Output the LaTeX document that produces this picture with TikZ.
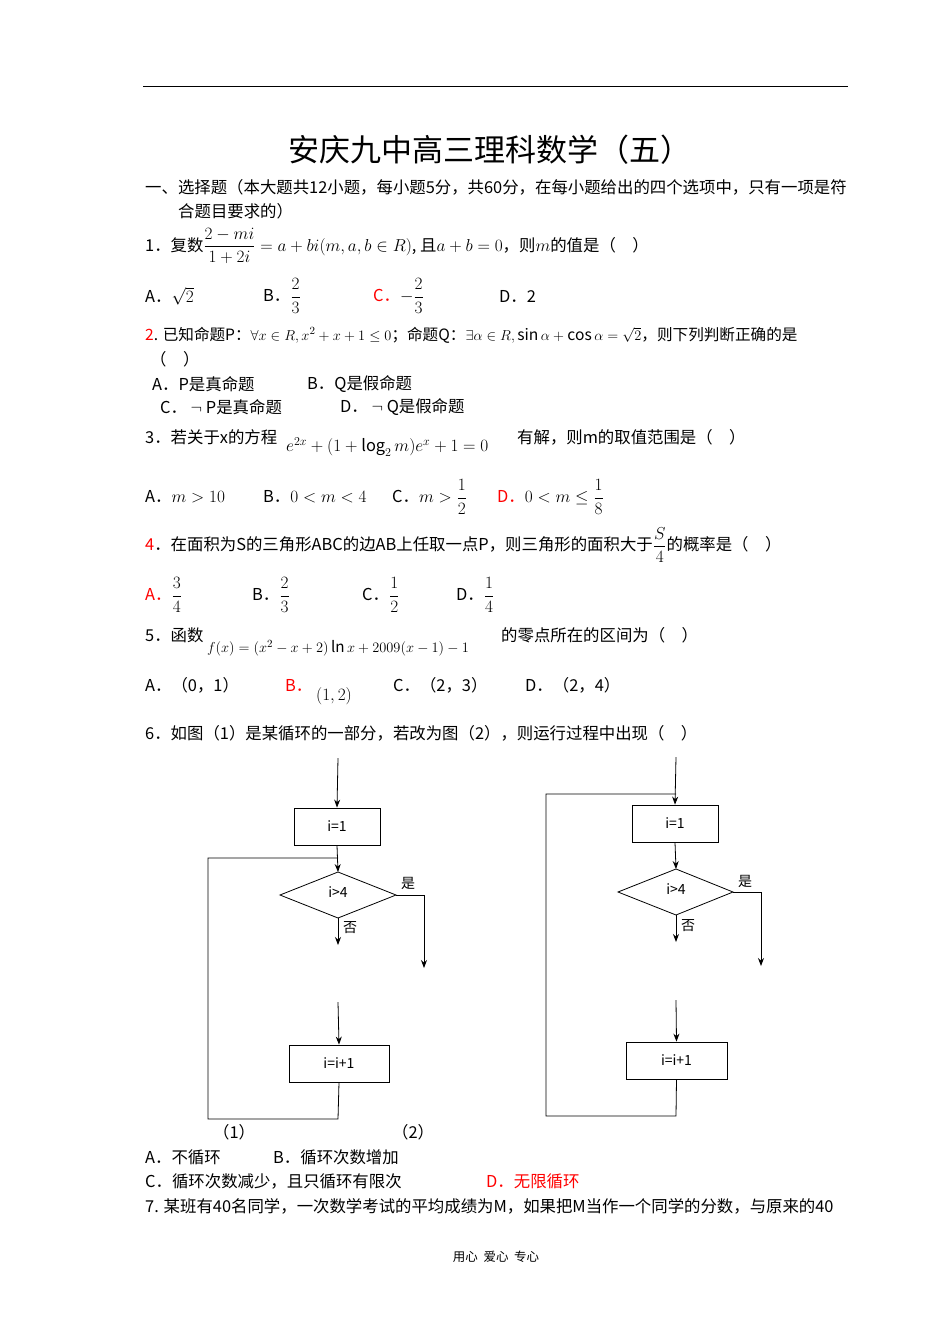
\documentclass[tikz,border=0pt]{standalone}
\usepackage{amsmath,amssymb}
\usepackage{fontspec}
\setmainfont{Noto Sans CJK SC}
\usetikzlibrary{arrows.meta}
\begin{document}
\begin{tikzpicture}[x=1pt,y=-1pt,
  t/.style={anchor=west,inner sep=0pt,font=\fontsize{16.4}{19}\selectfont},
  r/.style={t,text=red},
  fbox/.style={draw,thick,minimum width=86pt,minimum height=37pt,anchor=center,font=\fontsize{14}{16}\selectfont},
  dia/.style={draw,thick},
  ar/.style={thick,-{Stealth[length=8pt,width=6pt]}},
  ln/.style={thick}]
\useasboundingbox (0,0) rectangle (950,1344);
\fill[white] (0,0) rectangle (950,1344);
\coordinate (rl) at (143,86); \coordinate (rr) at (848,86);
\draw[thick] (rl)--(rr);
\node[inner sep=0pt,font=\fontsize{31}{35}\selectfont] (title) at (490,150) {安庆九中高三理科数学（五）};
\node[t] (h1) at (145,187) {一、选择题（本大题共12小题，每小题5分，共60分，在每小题给出的四个选项中，只有一项是符};
\node[t] (h2) at (178,211) {合题目要求的）};
\node[t] (q1) at (145,246) {1．复数$\dfrac{2-mi}{1+2i}=a+bi(m,a,b\in R)$, 且$a+b=0$，则$m$的值是（\quad）};
\node[t] (q1a) at (145,296) {A．$\sqrt2$};
\node[t] (q1b) at (263,296) {B．$\dfrac23$};
\node[r] (q1c) at (373,296) {C．\textcolor{black}{$-\dfrac23$}};
\node[t] (q1d) at (499,296) {D．2};
\node[t,font=\fontsize{15.6}{19}\selectfont] (q2) at (145,335) {\textcolor{red}{2}. 已知命题P：$\forall x\in R,x^2+x+1\le0$；命题Q：$\exists\alpha\in R,\sin\alpha+\cos\alpha=\sqrt2$，则下列判断正确的是};
\node[t] (q2p) at (150,359) {（\quad）};
\node[t] (q2a) at (152,384) {A．P是真命题};
\node[t] (q2b) at (307,384) {B．Q是假命题};
\node[t] (q2c) at (160,407) {C．\ $\neg$ P是真命题};
\node[t] (q2d) at (340,407) {D．\ $\neg$ Q是假命题};
\node[t] (q3) at (145,437) {3．若关于x的方程};
\node[t] (q3m) at (286,447) {$e^{2x}+(1+\log_2 m)e^x+1=0$};
\node[t] (q3e) at (517,437) {有解，则m的取值范围是（\quad）};
\node[t] (q3a) at (145,497) {A．$m>10$};
\node[t] (q3b) at (263,497) {B．$0<m<4$};
\node[t] (q3c) at (392,497) {C．$m>\dfrac12$};
\node[r] (q3d) at (497,497) {D．\textcolor{black}{$0<m\le\dfrac18$}};
\node[t] (q4) at (145,545) {\textcolor{red}{4}．在面积为S的三角形ABC的边AB上任取一点P，则三角形的面积大于$\dfrac S4$的概率是（\quad）};
\node[r] (q4a) at (145,595) {A．\textcolor{black}{$\dfrac34$}};
\node[t] (q4b) at (252,595) {B．$\dfrac23$};
\node[t] (q4c) at (362,595) {C．$\dfrac12$};
\node[t] (q4d) at (456,595) {D．$\dfrac14$};
\node[t] (q5) at (145,635) {5．函数};
\node[t,font=\fontsize{15.2}{18}\selectfont] (q5m) at (207,648) {$f(x)=(x^2-x+2)\ln x+2009(x-1)-1$};
\node[t] (q5e) at (501,635) {的零点所在的区间为（\quad）};
\node[t] (q5a) at (145,685) {A．（0，1）};
\node[r] (q5b) at (285,685) {B．};
\node[t] (q5bm) at (316,696) {$(1,2)$};
\node[t] (q5c) at (393,685) {C．（2，3）};
\node[t] (q5d) at (525,685) {D．（2，4）};
\node[t] (q6) at (145,733) {6．如图（1）是某循环的一部分，若改为图（2），则运行过程中出现（\quad）};
% flowchart 1
\coordinate (s1) at (338,758);
\node[fbox,minimum width=86pt] (b1) at (337,826.5) {i=1};
\coordinate (d1t) at (338,872); \coordinate (d1l) at (280,895); \coordinate (d1b) at (338,918); \coordinate (d1r) at (396,895);
\draw[dia] (d1t)--(d1r)--(d1b)--(d1l)--cycle;
\node[inner sep=0pt,font=\fontsize{14}{16}\selectfont] (d1) at (338,892) {i>4};
\node[inner sep=0pt,font=\fontsize{14}{16}\selectfont] (y1) at (408,883) {是};
\node[inner sep=0pt,font=\fontsize{14}{16}\selectfont] (n1) at (350,928) {否};
\coordinate (y1c) at (424,895); \coordinate (y1e) at (424,968);
\coordinate (n1e) at (338,945);
\coordinate (m1s) at (338,1002);
\node[fbox,minimum width=100pt] (b2) at (339,1063.5) {i=i+1};
\coordinate (l1a) at (338,1119); \coordinate (l1b) at (208,1119); \coordinate (l1c) at (208,858); \coordinate (l1d) at (338,858);
\draw[ar] (s1)--(b1.north);
\draw[ar] (b1.south)--(d1t);
\draw[ln] (d1r)--(y1c); \draw[ar] (y1c)--(y1e);
\draw[ar] (d1b)--(n1e);
\draw[ar] (m1s)--(b2.north);
\draw[ln] (b2.south)--(l1a)--(l1b)--(l1c)--(l1d);
\node[t] (c1) at (213,1132) {（1）};
\node[t] (c2) at (392,1132) {（2）};
% flowchart 2
\coordinate (s2) at (676,757);
\node[fbox,minimum width=86pt] (b3) at (675,823.5) {i=1};
\coordinate (d2t) at (676,869); \coordinate (d2l) at (618,892); \coordinate (d2b) at (676,915); \coordinate (d2r) at (733,892);
\draw[dia] (d2t)--(d2r)--(d2b)--(d2l)--cycle;
\node[inner sep=0pt,font=\fontsize{14}{16}\selectfont] (d2) at (676,889) {i>4};
\node[inner sep=0pt,font=\fontsize{14}{16}\selectfont] (y2) at (745,881) {是};
\node[inner sep=0pt,font=\fontsize{14}{16}\selectfont] (n2) at (688,926) {否};
\coordinate (y2c) at (761,892); \coordinate (y2e) at (761,966);
\coordinate (n2e) at (676,942);
\coordinate (m2s) at (676,1000);
\node[fbox,minimum width=101pt] (b4) at (676.5,1060.5) {i=i+1};
\coordinate (l2a) at (676,1116); \coordinate (l2b) at (546,1116); \coordinate (l2c) at (546,794); \coordinate (l2d) at (676,794);
\draw[ar] (s2)--(b3.north);
\draw[ar] (b3.south)--(d2t);
\draw[ln] (d2r)--(y2c); \draw[ar] (y2c)--(y2e);
\draw[ar] (d2b)--(n2e);
\draw[ar] (m2s)--(b4.north);
\draw[ln] (b4.south)--(l2a)--(l2b)--(l2c)--(l2d);
% answers
\node[t] (q6a) at (145,1157) {A．不循环};
\node[t] (q6b) at (273,1157) {B．循环次数增加};
\node[t] (q6c) at (145,1181) {C．循环次数减少，且只循环有限次};
\node[r] (q6d) at (486,1181) {D．无限循环};
\node[t] (q7) at (145,1206) {7. 某班有40名同学，一次数学考试的平均成绩为M，如果把M当作一个同学的分数，与原来的40};
\node[inner sep=0pt,font=\fontsize{12.5}{14}\selectfont] (foot) at (496,1257) {用心\ \ 爱心\ \ 专心};
\end{tikzpicture}
\end{document}
